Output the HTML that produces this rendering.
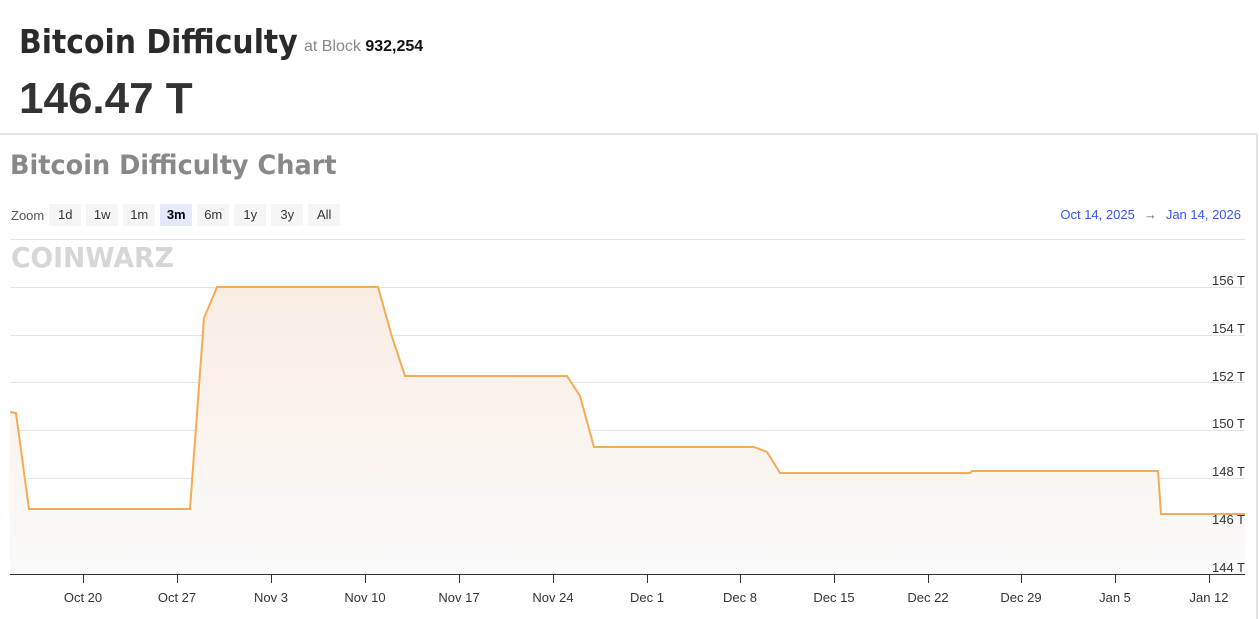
<!DOCTYPE html>
<html><head><meta charset="utf-8"><style>
body{margin:0;width:1259px;height:619px;background:#fff;font-family:"Liberation Sans",sans-serif;overflow:hidden;position:relative}
.t1{position:absolute;left:19px;top:22px;font-size:33px;font-weight:bold;color:#2a2a2a;font-family:"DejaVu Sans",sans-serif;transform:scaleX(0.905);transform-origin:left top;white-space:nowrap}
.sub{position:absolute;left:304px;top:38px;font-size:16px;color:#888}
.sub b{color:#111}
.big{position:absolute;left:19px;top:74px;font-size:44px;font-weight:bold;color:#333}
.hr{position:absolute;left:0;top:133px;width:1257px;height:2px;background:#e2e2e2}
.vr{position:absolute;left:1256px;top:134px;width:2px;height:485px;background:#e2e2e2}
.t2{position:absolute;left:10px;top:150px;font-size:27px;font-weight:bold;color:#888;font-family:"DejaVu Sans",sans-serif;transform:scaleX(0.947);transform-origin:left top;white-space:nowrap}
.zoom{position:absolute;left:11px;top:204px;font-size:13px;color:#555;display:flex;align-items:center}
.zoom span.b{display:inline-block;width:32px;height:22px;line-height:22px;text-align:center;background:#f5f5f5;margin-left:5px;color:#333}
.zoom span.sel{background:#e6e8fb;font-weight:bold;color:#000}
.dates{position:absolute;right:18px;top:207px;font-size:13px;color:#3355ee}
.dates i{font-style:normal;color:#666;margin:0 9px}
.wm{position:absolute;left:11px;top:241px;font-size:28px;font-weight:900;color:#d6d6d6;font-family:"DejaVu Sans",sans-serif;transform:scaleX(0.95);transform-origin:left top;white-space:nowrap}
</style></head><body>
<div class="t1">Bitcoin Difficulty</div>
<div class="sub">at Block <b>932,254</b></div>
<div class="big">146.47 T</div>
<div class="hr"></div><div class="vr"></div>
<div class="t2">Bitcoin Difficulty Chart</div>
<div class="zoom">Zoom<span class="b">1d</span><span class="b">1w</span><span class="b">1m</span><span class="b sel">3m</span><span class="b">6m</span><span class="b">1y</span><span class="b">3y</span><span class="b">All</span></div>
<div class="dates">Oct 14, 2025<i>→</i>Jan 14, 2026</div>
<div class="wm">COINWARZ</div>
<svg style="position:absolute;left:0;top:0" width="1259" height="619">
<defs><linearGradient id="g" x1="0" y1="0" x2="0" y2="1"><stop offset="0" stop-color="#f9ede3"/><stop offset="1" stop-color="#fafafa"/></linearGradient></defs>
<g stroke="#e3e3e3" stroke-width="1">
<line x1="10" x2="1245" y1="239.5" y2="239.5"/>
<line x1="10" x2="1245" y1="287.5" y2="287.5"/>
<line x1="10" x2="1245" y1="335.5" y2="335.5"/>
<line x1="10" x2="1245" y1="382.5" y2="382.5"/>
<line x1="10" x2="1245" y1="430.5" y2="430.5"/>
<line x1="10" x2="1245" y1="478.5" y2="478.5"/>
<line x1="10" x2="1245" y1="526.5" y2="526.5"/>
</g>
<polygon fill="url(#g)" points="10,412 16,413 29,509 190,509 204,318 217,287 378,287 392,337 405,376 567,376 580,396 594,447 754,447 767,452 780,473 970,473 972,471 1158,471 1161,514 1245,514 1245,574 10,574"/>
<polyline fill="none" stroke="#f5ab55" stroke-width="2" points="10,412 16,413 29,509 190,509 204,318 217,287 378,287 392,337 405,376 567,376 580,396 594,447 754,447 767,452 780,473 970,473 972,471 1158,471 1161,514 1245,514"/>
<line x1="10" x2="1245" y1="574.5" y2="574.5" stroke="#333" stroke-width="1"/>
<g stroke="#333"><line x1="83.5" x2="83.5" y1="575" y2="583"/><line x1="177.5" x2="177.5" y1="575" y2="583"/><line x1="271.5" x2="271.5" y1="575" y2="583"/><line x1="365.5" x2="365.5" y1="575" y2="583"/><line x1="459.5" x2="459.5" y1="575" y2="583"/><line x1="553.5" x2="553.5" y1="575" y2="583"/><line x1="647.5" x2="647.5" y1="575" y2="583"/><line x1="740.5" x2="740.5" y1="575" y2="583"/><line x1="834.5" x2="834.5" y1="575" y2="583"/><line x1="928.5" x2="928.5" y1="575" y2="583"/><line x1="1021.5" x2="1021.5" y1="575" y2="583"/><line x1="1115.5" x2="1115.5" y1="575" y2="583"/><line x1="1209.5" x2="1209.5" y1="575" y2="583"/></g>
<g font-family="Liberation Sans,sans-serif" font-size="13" fill="#333" text-anchor="middle">
<text x="83" y="602">Oct 20</text><text x="177" y="602">Oct 27</text><text x="271" y="602">Nov 3</text><text x="365" y="602">Nov 10</text><text x="459" y="602">Nov 17</text><text x="553" y="602">Nov 24</text><text x="647" y="602">Dec 1</text><text x="740" y="602">Dec 8</text><text x="834" y="602">Dec 15</text><text x="928" y="602">Dec 22</text><text x="1021" y="602">Dec 29</text><text x="1115" y="602">Jan 5</text><text x="1209" y="602">Jan 12</text>
</g>
<g font-family="Liberation Sans,sans-serif" font-size="13" fill="#333" text-anchor="end">
<text x="1245" y="285">156 T</text><text x="1245" y="333">154 T</text><text x="1245" y="381">152 T</text><text x="1245" y="428">150 T</text><text x="1245" y="476">148 T</text><text x="1245" y="524">146 T</text><text x="1245" y="572">144 T</text>
</g>
</svg>
</body></html>
